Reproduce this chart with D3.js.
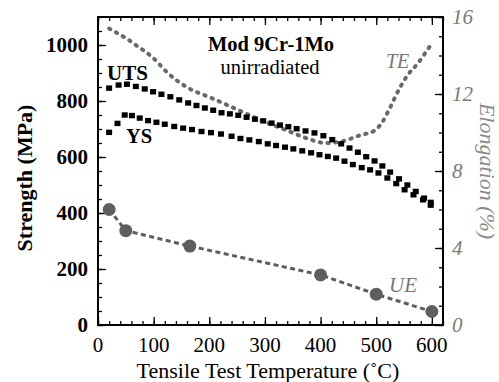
<!DOCTYPE html>
<html><head><meta charset="utf-8">
<script src="https://cdn.jsdelivr.net/npm/d3@7"></script>
<style>body{margin:0;background:#fff;} svg{display:block;} svg text{font-family:"Liberation Serif","Times New Roman",Times,"DejaVu Serif",serif;}</style>
</head><body>
<svg id="c" width="499" height="382"></svg>
<script>
// ---- data ----
const utsT = [20,37,52,68,84,99,114,130,146,162,177,192,207,222,237,252,267,282,297,312,327,342,357,373,389,405,421,437,452,467,482,497,511,525,541,556,571,586,598];
const utsV = [846,857,860,852,843,833,824,815,804,793,784,775,767,758,754,749,742,735,729,721,714,708,701,693,686,676,662,647,632,617,601,586,568,546,522,500,477,453,438];
const ysT = [20,35,48,61,75,90,105,120,137,153,169,186,203,221,240,256,272,289,305,320,336,351,367,383,398,413,428,443,458,474,489,504,520,536,551,567,584,598];
const ysV = [688,720,750,748,739,730,724,717,709,703,698,691,687,682,674,666,661,655,647,641,635,629,622,615,608,602,596,585,573,562,554,543,525,505,483,465,447,428];
const teT = [20,50,70,100,125,160,205,265,300,340,375,410,440,470,497,510,525,542,557,575,585,597];
const teV = [15.4,14.9,14.5,13.85,13.1,12.35,11.78,11.0,10.55,10.1,9.7,9.45,9.55,9.85,10.1,10.5,11.3,12.3,13.0,13.6,14.0,14.5];
const ueT = [20,50,165,400,500,600];
const ueV = [6.0,4.9,4.1,2.6,1.6,0.7];
const xTickLabels = [0,100,200,300,400,500,600];
const yTickLabels = [0,200,400,600,800,1000];
const y2TickLabels = [0,4,8,12,16];

// ---- layout ----
const svg = d3.select("#c");
const m = {l:98, t:17, r:56, b:57};
const W = 499 - m.l - m.r, H = 382 - m.t - m.b;
const g = svg.append("g").attr("transform", `translate(${m.l},${m.t})`);
const x = d3.scaleLinear().domain([0,620]).range([0,W]);
const y = d3.scaleLinear().domain([0,1100]).range([H,0]);
const y2 = d3.scaleLinear().domain([0,16]).range([H,0]);

// ---- axes ----
function ticksAxis(axis, vals, len) { return axis.tickValues(vals).tickSizeInner(len).tickSizeOuter(0).tickFormat(""); }
const xMinor = d3.range(0,621,20), xMajor = d3.range(0,601,100);
const yMinor = d3.range(0,1101,50), yMajor = d3.range(0,1001,200);
const y2Minor = d3.range(0,17,1), y2Major = d3.range(0,17,4);

function styleAx(sel){ sel.selectAll("path").remove(); sel.selectAll("line").attr("stroke","#000").attr("stroke-width",1.3); }

g.append("g").attr("transform",`translate(0,${H})`).call(ticksAxis(d3.axisTop(x), xMinor, 4)).call(styleAx);
g.append("g").attr("transform",`translate(0,${H})`).call(ticksAxis(d3.axisTop(x), xMajor, 8)).call(styleAx);
g.append("g").call(ticksAxis(d3.axisBottom(x), xMinor, 4)).call(styleAx);
g.append("g").call(ticksAxis(d3.axisBottom(x), xMajor, 8)).call(styleAx);
g.append("g").call(ticksAxis(d3.axisRight(y), yMinor, 4)).call(styleAx);
g.append("g").call(ticksAxis(d3.axisRight(y), yMajor, 8)).call(styleAx);
g.append("g").attr("transform",`translate(${W},0)`).call(ticksAxis(d3.axisLeft(y2), y2Minor, 4)).call(styleAx);
g.append("g").attr("transform",`translate(${W},0)`).call(ticksAxis(d3.axisLeft(y2), y2Major, 8)).call(styleAx);

g.append("rect").attr("x",0).attr("y",0).attr("width",W).attr("height",H)
  .attr("fill","none").attr("stroke","#000").attr("stroke-width",2);

// tick labels
g.append("g").selectAll("text").data(xTickLabels).join("text")
  .attr("x", d=>x(d)).attr("y", H+27).attr("text-anchor","middle")
  .style("font-size","21px").text(d=>d);
g.append("g").selectAll("text").data(yTickLabels).join("text")
  .attr("x", -10).attr("y", d=>y(d)).attr("dy","0.35em").attr("text-anchor","end")
  .style("font-weight","bold").style("font-size","21px").text(d=>d);
g.append("g").selectAll("text").data(y2TickLabels).join("text")
  .attr("x", W+9).attr("y", d=>y2(d)).attr("dy","0.35em").attr("text-anchor","start")
  .style("font-style","italic").attr("fill","#7a7a7a").style("font-size","21px").text(d=>d);

// axis titles
svg.append("text").attr("transform",`translate(32,178) rotate(-90)`).attr("text-anchor","middle")
  .style("font-weight","bold").style("font-size","22px").text("Strength (MPa)");
svg.append("text").attr("x",268).attr("y",378).attr("text-anchor","middle")
  .style("font-size","22px").text("Tensile Test Temperature (˚C)");
svg.append("text").attr("transform",`translate(480,171) rotate(90)`).attr("text-anchor","middle")
  .style("font-style","italic").attr("fill","#888").style("font-size","22px").text("Elongation (%)");

// ---- series ----
const teLine = d3.line().x((d,i)=>x(teT[i])).y(d=>y2(d)).curve(d3.curveMonotoneX);
g.append("path").attr("d", teLine(teV)).attr("fill","none").attr("stroke","#696969")
  .attr("stroke-width",4).attr("stroke-linecap","round").attr("stroke-dasharray","1.4 6.4");

const ueLine = d3.line().x((d,i)=>x(ueT[i])).y(d=>y2(d));
g.append("path").attr("d", ueLine(ueV)).attr("fill","none").attr("stroke","#5e5e5e")
  .attr("stroke-width",3).attr("stroke-dasharray","5 3.5");
g.append("g").selectAll("circle").data(ueV).join("circle")
  .attr("cx",(d,i)=>x(ueT[i])).attr("cy",d=>y2(d)).attr("r",6.5).attr("fill","#5e5e5e");

g.append("g").selectAll("rect").data(utsV).join("rect")
  .attr("x",(d,i)=>x(utsT[i])-3).attr("y",d=>y(d)-2.7).attr("width",6).attr("height",5.4).attr("fill","#000");
g.append("g").selectAll("rect").data(ysV).join("rect")
  .attr("x",(d,i)=>x(ysT[i])-3).attr("y",d=>y(d)-2.7).attr("width",6).attr("height",5.4).attr("fill","#000");

// ---- annotations ----
svg.append("text").attr("x",271).attr("y",50.5).attr("text-anchor","middle")
  .style("font-weight","bold").style("font-size","20.5px").text("Mod 9Cr-1Mo");
svg.append("text").attr("x",270).attr("y",74).attr("text-anchor","middle")
  .style("font-size","20.5px").text("unirradiated");
svg.append("text").attr("x",107).attr("y",80).style("font-weight","bold").style("font-size","21px").text("UTS");
svg.append("text").attr("x",126).attr("y",143).style("font-weight","bold").style("font-size","20.5px").text("YS");
svg.append("text").attr("x",386).attr("y",68).style("font-style","italic").attr("fill","#777").style("font-size","20px").text("TE");
svg.append("text").attr("x",389).attr("y",292).style("font-style","italic").attr("fill","#777").style("font-size","21px").text("UE");
</script>
</body></html>
